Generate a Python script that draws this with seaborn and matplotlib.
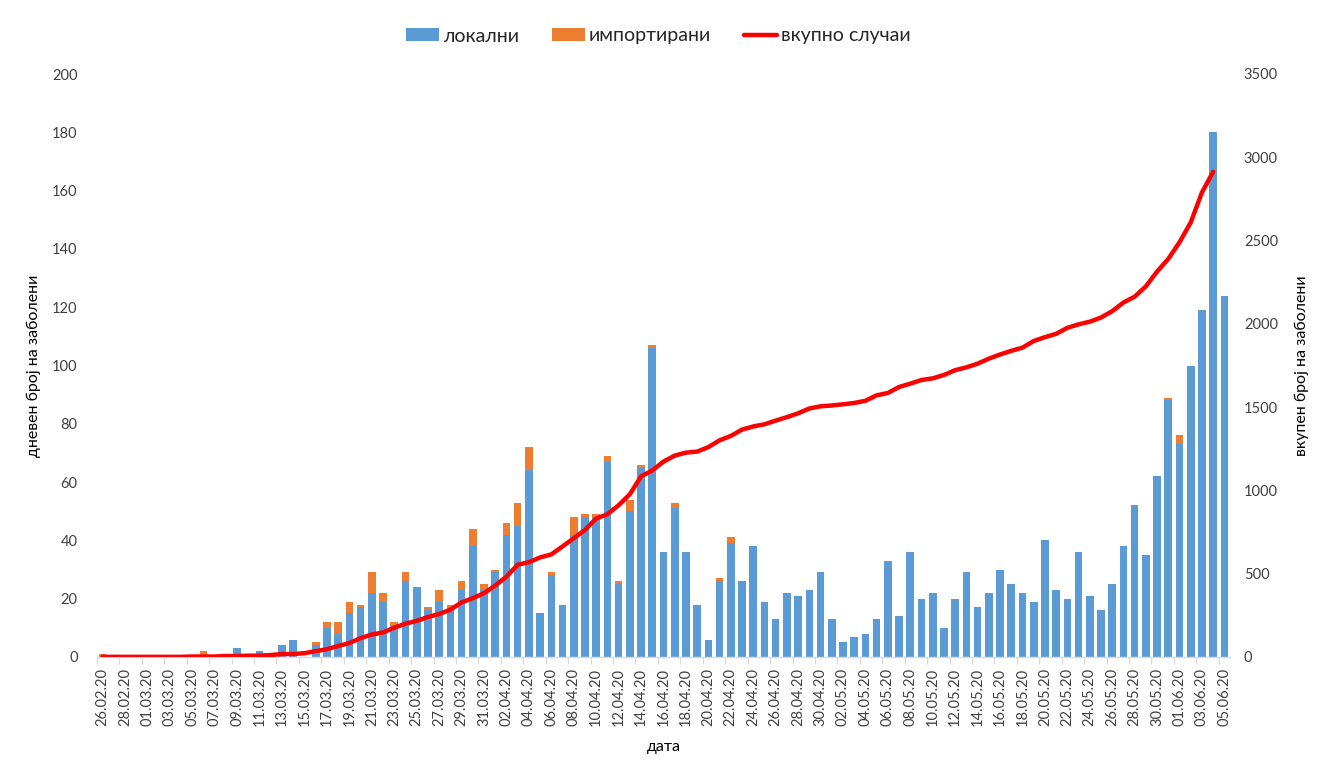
import numpy as np
import pandas as pd
import matplotlib
matplotlib.use("Agg")
import matplotlib.pyplot as plt
import seaborn as sns
from matplotlib.patches import Patch
from matplotlib.lines import Line2D

# ---- data ----
dates = pd.date_range("2020-02-26", "2020-06-05", freq="D").strftime("%d.%m.%y").tolist()

local = [0, 0, 0, 0, 0, 0, 0, 0, 0, 0,
         0, 0, 3, 0, 2, 0, 4, 6, 0, 4,
         10, 8, 15, 17, 22, 19, 11, 26, 24, 16,
         19, 17, 23, 38, 23, 29, 42, 45, 64, 15,
         28, 18, 42, 48, 48, 67, 25, 50, 65, 106,
         36, 51, 36, 18, 6, 26, 39, 26, 38, 19,
         13, 22, 21, 23, 29, 13, 5, 7, 8, 13,
         33, 14, 36, 20, 22, 10, 20, 29, 17, 22,
         30, 25, 22, 19, 40, 23, 20, 36, 21, 16,
         25, 38, 52, 35, 62, 88, 73, 100, 119, 180,
         124]

imported = [1, 0, 0, 0, 0, 0, 0, 0, 0, 2,
            0, 0, 0, 0, 0, 0, 0, 0, 0, 1,
            2, 4, 4, 1, 7, 3, 1, 3, 0, 1,
            4, 1, 3, 6, 2, 1, 4, 8, 8, 0,
            1, 0, 6, 1, 1, 2, 1, 4, 1, 1,
            0, 2, 0, 0, 0, 1, 2, 0, 0, 0,
            0, 0, 0, 0, 0, 0, 0, 0, 0, 0,
            0, 0, 0, 0, 0, 0, 0, 0, 0, 0,
            0, 0, 0, 0, 0, 0, 0, 0, 0, 0,
            0, 0, 0, 0, 0, 1, 3, 0, 0, 0,
            0]

total_cases = [1, 1, 1, 1, 1, 1, 1, 1, 3, 3,
               3, 6, 6, 8, 8, 12, 18, 18, 23, 35,
               47, 66, 84, 113, 135, 147, 176, 200, 217, 240,
               258, 284, 328, 353, 383, 429, 482, 554, 569, 598,
               616, 664, 713, 762, 831, 857, 911, 977, 1084, 1120,
               1173, 1209, 1227, 1233, 1260, 1301, 1327, 1365, 1384, 1397,
               1419, 1440, 1463, 1492, 1505, 1510, 1517, 1525, 1538, 1571,
               1585, 1621, 1641, 1663, 1673, 1693, 1722, 1739, 1761, 1791,
               1816, 1838, 1857, 1897, 1920, 1940, 1976, 1997, 2013, 2038,
               2076, 2128, 2163, 2225, 2314, 2390, 2490, 2609, 2789, 2913]

series_labels = ["локални", "импортирани", "вкупно случаи"]
left_ticks = [0, 20, 40, 60, 80, 100, 120, 140, 160, 180, 200]
right_ticks = [0, 500, 1000, 1500, 2000, 2500, 3000, 3500]

# ---- styling ----
sns.set_theme(style="white")
plt.rcParams["font.family"] = ["Lato", "Open Sans", "DejaVu Sans"]

BLUE = "#5B9BD5"
ORANGE = "#ED7D31"
RED = "#FF0000"
TXT = "#404040"

df = pd.DataFrame({"date": dates, "local": local, "imported": imported})
df["sum"] = df["local"] + df["imported"]

fig = plt.figure(figsize=(13.17, 7.68), dpi=100)
ax = fig.add_axes([97/1317, 1 - 657/768, (1230 - 97)/1317, (657 - 74)/768])

sns.barplot(data=df, x="date", y="sum", color=ORANGE, saturation=1, width=0.68,
            ax=ax, order=dates, linewidth=0)
sns.barplot(data=df, x="date", y="local", color=BLUE, saturation=1, width=0.68,
            ax=ax, order=dates, linewidth=0)

ax.set_xlim(-0.5, len(dates) - 0.5)
ax.set_ylim(0, 200)
ax.set_yticks(left_ticks)
ax.set_yticklabels([str(t) for t in left_ticks])
ax.set_xticks(range(0, len(dates), 2))
ax.set_xticklabels(dates[::2], rotation=90)
ax.set_xticks(np.arange(-0.5, len(dates), 2), minor=True)
ax.tick_params(axis="x", which="major", length=0, pad=8, labelsize=10.5, colors=TXT)
ax.tick_params(axis="x", which="minor", length=5, width=0.8, color="#D9D9D9", bottom=True)
ax.tick_params(axis="y", length=0, pad=14, labelsize=10.5, colors=TXT)
for s in ["top", "right", "left"]:
    ax.spines[s].set_visible(False)
ax.spines["bottom"].set_color("#D9D9D9")
ax.spines["bottom"].set_linewidth(1)
ax.set_xlabel("дата", fontsize=11.5, color="black", labelpad=10)
ax.set_ylabel("дневен број на заболени", fontsize=11.5, color="black", labelpad=8)
ax.grid(False)

ax2 = ax.twinx()
line_df = pd.DataFrame({"x": np.arange(len(total_cases)), "cum": total_cases})
sns.lineplot(data=line_df, x="x", y="cum", color=RED, linewidth=3.2, ax=ax2)
ax2.set_xlim(-0.5, len(dates) - 0.5)
ax2.set_ylim(0, 3500)
ax2.set_yticks(right_ticks)
ax2.set_yticklabels([str(t) for t in right_ticks])
ax2.tick_params(axis="y", length=0, pad=10, labelsize=10.5, colors=TXT)
for s in ["top", "right", "left", "bottom"]:
    ax2.spines[s].set_visible(False)
ax2.set_ylabel("вкупен број на заболени", fontsize=11.5, color="black", labelpad=12)
ax2.grid(False)

for a in (ax, ax2):
    if a.get_legend() is not None:
        a.get_legend().remove()

handles = [Patch(facecolor=BLUE, edgecolor="none"),
           Patch(facecolor=ORANGE, edgecolor="none"),
           Line2D([0], [0], color=RED, linewidth=3.2)]
fig.legend(handles, series_labels, loc="center", bbox_to_anchor=(0.5, 1 - 36/768),
           ncol=3, frameon=False, fontsize=14, handlelength=1.7, handleheight=0.6,
           handletextpad=0.2, columnspacing=1.7)

fig.savefig("out.png", dpi=100)
